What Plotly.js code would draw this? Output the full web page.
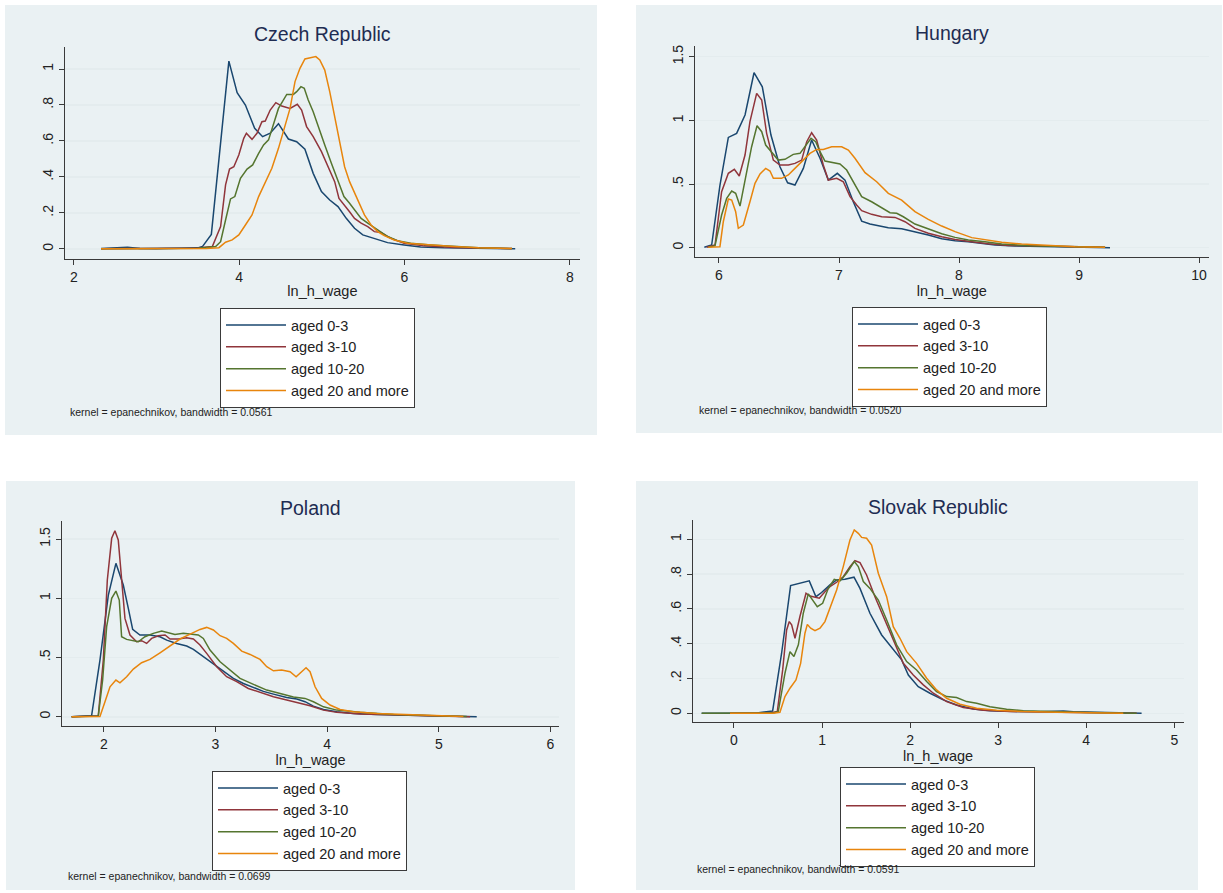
<!DOCTYPE html>
<html><head><meta charset="utf-8">
<script src="https://cdn.plot.ly/plotly-3.0.1.min.js"></script>
<style>html,body{margin:0;padding:0;background:#fff}#chart{width:1223px;height:893px}</style>
</head><body><div id="chart"></div>
<script>
// ---------------- DATA ----------------
const seriesNames = ["aged 0-3", "aged 3-10", "aged 10-20", "aged 20 and more"];
const panelTitles = ["Czech Republic", "Hungary", "Poland", "Slovak Republic"];
const footnotes = ["kernel = epanechnikov, bandwidth = 0.0561", "kernel = epanechnikov, bandwidth = 0.0520",
                   "kernel = epanechnikov, bandwidth = 0.0699", "kernel = epanechnikov, bandwidth = 0.0591"];
const xTitle = "ln_h_wage";

// Czech Republic
const cz_x_a03 = [2.33,2.5,2.65,2.8,3.0,3.3,3.5,3.556,3.664,3.876,3.976,4.076,4.188,4.284,4.376,4.476,4.596,4.696,4.796,4.896,4.996,5.096,5.196,5.296,5.396,5.496,5.596,5.696,5.796,5.996,6.196,6.476,6.9,7.34];
const cz_y_a03 = [0.002,0.004,0.009,0.003,0.001,0.004,0.006,0.013,0.081,1.044,0.869,0.80,0.670,0.624,0.643,0.696,0.611,0.596,0.554,0.420,0.319,0.272,0.235,0.170,0.115,0.078,0.065,0.050,0.035,0.022,0.011,0.006,0.003,0.001];
const cz_x_a310 = [2.33,2.8,3.2,3.5,3.676,3.776,3.836,3.884,3.936,3.996,4.056,4.088,4.156,4.216,4.276,4.316,4.376,4.444,4.516,4.616,4.704,4.756,4.816,4.896,4.996,5.096,5.156,5.208,5.276,5.336,5.396,5.476,5.556,5.636,5.716,5.836,5.996,6.236,6.6,7.0,7.3];
const cz_y_a310 = [0.001,0.002,0.003,0.005,0.013,0.124,0.356,0.444,0.457,0.522,0.615,0.643,0.609,0.643,0.707,0.711,0.772,0.813,0.794,0.781,0.804,0.772,0.680,0.624,0.541,0.430,0.374,0.281,0.244,0.207,0.170,0.143,0.124,0.096,0.091,0.059,0.031,0.017,0.008,0.004,0.002];
const cz_x_a1020 = [2.33,2.8,3.2,3.5,3.716,3.776,3.836,3.896,3.948,4.016,4.096,4.164,4.236,4.296,4.356,4.416,4.476,4.576,4.656,4.696,4.748,4.788,4.836,4.896,4.956,5.036,5.116,5.196,5.268,5.336,5.396,5.476,5.556,5.676,5.796,5.916,6.076,6.316,6.596,6.9,7.3];
const cz_y_a1020 = [0.001,0.002,0.002,0.004,0.013,0.04,0.161,0.278,0.291,0.393,0.444,0.467,0.531,0.578,0.606,0.689,0.781,0.859,0.859,0.874,0.902,0.893,0.828,0.763,0.680,0.578,0.476,0.374,0.291,0.254,0.217,0.170,0.143,0.106,0.069,0.046,0.031,0.022,0.013,0.006,0.002];
const cz_x_a20 = [2.33,2.8,3.2,3.6,3.756,3.836,3.916,3.996,4.076,4.156,4.236,4.316,4.396,4.476,4.556,4.616,4.676,4.736,4.796,4.876,4.928,4.976,5.036,5.096,5.156,5.216,5.276,5.336,5.396,5.456,5.516,5.596,5.676,5.756,5.876,6.036,6.276,6.596,6.9,7.3];
const cz_y_a20 = [0.001,0.001,0.002,0.003,0.007,0.037,0.05,0.078,0.133,0.189,0.291,0.374,0.448,0.559,0.689,0.781,0.930,1.004,1.056,1.063,1.069,1.050,0.994,0.874,0.735,0.615,0.457,0.374,0.309,0.254,0.189,0.133,0.096,0.074,0.050,0.031,0.022,0.013,0.006,0.002];

// Hungary
const hu_x_a03 = [5.878,5.939,6.008,6.078,6.147,6.217,6.292,6.361,6.433,6.508,6.572,6.633,6.703,6.772,6.842,6.911,6.986,7.05,7.119,7.189,7.258,7.328,7.411,7.522,7.633,7.744,7.856,7.967,8.078,8.189,8.3,8.467,8.689,8.911,9.258];
const hu_y_a03 = [0.003,0.021,0.49,0.866,0.898,1.042,1.374,1.264,0.885,0.636,0.510,0.492,0.623,0.846,0.702,0.531,0.584,0.531,0.361,0.209,0.186,0.170,0.157,0.149,0.126,0.099,0.071,0.055,0.047,0.034,0.021,0.013,0.008,0.005,0.0];
const hu_x_a310 = [5.897,5.967,6.022,6.078,6.128,6.169,6.217,6.258,6.314,6.356,6.397,6.453,6.508,6.578,6.633,6.689,6.731,6.772,6.814,6.869,6.911,6.981,7.036,7.092,7.147,7.189,7.272,7.356,7.467,7.55,7.633,7.744,7.856,7.967,8.106,8.244,8.411,8.633,8.856,9.217];
const hu_y_a310 = [0.003,0.021,0.44,0.584,0.615,0.563,0.728,0.990,1.212,1.160,0.898,0.688,0.649,0.649,0.662,0.688,0.832,0.903,0.846,0.649,0.531,0.545,0.518,0.401,0.335,0.291,0.262,0.243,0.238,0.204,0.152,0.113,0.086,0.065,0.047,0.031,0.018,0.013,0.008,0.003];
const hu_x_a1020 = [5.911,5.967,6.022,6.064,6.106,6.139,6.175,6.217,6.272,6.317,6.356,6.389,6.425,6.494,6.55,6.619,6.675,6.717,6.767,6.806,6.842,6.883,6.939,7.008,7.064,7.119,7.189,7.272,7.356,7.425,7.481,7.536,7.633,7.744,7.856,7.967,8.078,8.217,8.356,8.578,8.856,9.217];
const hu_y_a1020 = [0.003,0.016,0.257,0.387,0.445,0.427,0.327,0.518,0.793,0.958,0.911,0.806,0.767,0.688,0.694,0.733,0.741,0.793,0.859,0.832,0.754,0.681,0.670,0.657,0.610,0.518,0.401,0.361,0.314,0.275,0.270,0.243,0.186,0.147,0.110,0.081,0.060,0.047,0.029,0.016,0.008,0.003];
const hu_x_a20 = [5.911,6.008,6.036,6.078,6.106,6.139,6.161,6.203,6.258,6.3,6.342,6.389,6.425,6.453,6.522,6.578,6.633,6.689,6.758,6.814,6.869,6.939,7.022,7.078,7.133,7.217,7.314,7.411,7.522,7.633,7.744,7.856,7.967,8.106,8.217,8.356,8.522,8.744,8.967,9.217];
const hu_y_a20 = [0.003,0.008,0.204,0.382,0.374,0.283,0.152,0.178,0.361,0.505,0.579,0.623,0.602,0.545,0.545,0.571,0.623,0.675,0.741,0.772,0.772,0.793,0.793,0.767,0.702,0.589,0.518,0.427,0.374,0.283,0.223,0.170,0.126,0.079,0.065,0.042,0.029,0.016,0.008,0.003];

// Poland
const pl_x_a03 = [1.711,1.89,1.965,2.04,2.108,2.174,2.219,2.258,2.323,2.413,2.503,2.563,2.652,2.742,2.802,2.891,2.981,3.071,3.160,3.250,3.340,3.429,3.519,3.638,3.728,3.802,3.877,3.967,4.086,4.236,4.445,4.743,5.042,5.34];
const pl_y_a03 = [0.0,0.008,0.478,1.027,1.295,1.112,0.915,0.737,0.690,0.690,0.675,0.647,0.619,0.597,0.569,0.507,0.445,0.380,0.324,0.281,0.245,0.214,0.191,0.163,0.149,0.127,0.090,0.062,0.042,0.028,0.020,0.014,0.008,0.0];
const pl_x_a310 = [1.711,1.95,1.995,2.031,2.07,2.099,2.129,2.159,2.189,2.234,2.293,2.338,2.383,2.428,2.488,2.548,2.593,2.667,2.742,2.802,2.861,2.921,3.011,3.1,3.19,3.294,3.399,3.519,3.638,3.758,3.847,3.967,4.086,4.295,4.594,4.893,5.281];
const pl_y_a310 = [0.0,0.008,0.478,1.154,1.506,1.570,1.492,1.182,0.830,0.690,0.633,0.642,0.619,0.661,0.684,0.690,0.656,0.656,0.667,0.656,0.605,0.535,0.422,0.338,0.296,0.239,0.205,0.169,0.141,0.115,0.093,0.056,0.037,0.023,0.014,0.008,0.0];
const pl_x_a1020 = [1.711,1.95,1.989,2.025,2.07,2.108,2.138,2.159,2.204,2.249,2.308,2.368,2.443,2.518,2.577,2.637,2.712,2.787,2.846,2.891,2.951,3.041,3.131,3.220,3.340,3.459,3.579,3.698,3.802,3.877,3.967,4.086,4.295,4.594,4.893,5.251];
const pl_y_a1020 = [0.0,0.006,0.31,0.760,1.0,1.061,0.985,0.675,0.653,0.642,0.633,0.675,0.704,0.723,0.709,0.695,0.704,0.695,0.690,0.661,0.563,0.464,0.394,0.324,0.273,0.225,0.197,0.166,0.155,0.127,0.084,0.056,0.037,0.020,0.011,0.003];
const pl_x_a20 = [1.711,1.965,2.01,2.055,2.108,2.144,2.204,2.264,2.338,2.413,2.503,2.593,2.682,2.787,2.861,2.921,2.981,3.041,3.1,3.160,3.235,3.310,3.399,3.459,3.519,3.593,3.668,3.722,3.772,3.811,3.847,3.892,3.951,4.026,4.116,4.235,4.445,4.743,5.042,5.221];
const pl_y_a20 = [0.0,0.003,0.127,0.253,0.310,0.287,0.338,0.402,0.456,0.484,0.540,0.599,0.656,0.704,0.737,0.754,0.732,0.684,0.661,0.619,0.554,0.526,0.484,0.422,0.388,0.394,0.380,0.338,0.380,0.414,0.380,0.253,0.155,0.099,0.062,0.042,0.028,0.017,0.008,0.003];

// Slovak Republic
const sk_x_a03 = [-0.367,0.257,0.439,0.541,0.643,0.749,0.855,0.931,0.995,1.09,1.166,1.26,1.363,1.431,1.544,1.677,1.809,1.904,1.98,2.093,2.226,2.377,2.528,2.718,2.907,3.096,3.474,3.664,3.740,3.853,4.232,4.629];
const sk_y_a03 = [0.0,0.002,0.013,0.345,0.734,0.747,0.761,0.670,0.694,0.738,0.766,0.770,0.782,0.718,0.575,0.450,0.364,0.307,0.220,0.153,0.115,0.077,0.048,0.025,0.015,0.011,0.008,0.011,0.013,0.008,0.004,0.0];
const sk_x_a310 = [-0.045,0.409,0.492,0.553,0.598,0.628,0.655,0.693,0.749,0.818,0.863,0.920,0.969,1.033,1.09,1.166,1.241,1.317,1.374,1.431,1.506,1.601,1.696,1.809,1.923,2.036,2.150,2.264,2.415,2.604,2.831,3.134,3.512,3.891,4.307,4.572];
const sk_y_a310 = [0.0,0.002,0.01,0.249,0.479,0.527,0.508,0.431,0.556,0.690,0.674,0.665,0.661,0.699,0.728,0.753,0.785,0.843,0.877,0.866,0.795,0.670,0.556,0.421,0.287,0.220,0.163,0.115,0.067,0.033,0.017,0.010,0.006,0.004,0.002,0.0];
const sk_x_a1020 = [-0.367,0.447,0.503,0.579,0.636,0.681,0.731,0.787,0.844,0.893,0.946,1.007,1.071,1.139,1.204,1.279,1.366,1.412,1.469,1.544,1.639,1.734,1.847,1.961,2.074,2.188,2.301,2.415,2.528,2.642,2.756,2.907,3.096,3.285,3.664,4.042,4.572];
const sk_y_a1020 = [0.0,0.002,0.01,0.230,0.354,0.326,0.393,0.575,0.686,0.651,0.613,0.632,0.718,0.770,0.761,0.805,0.872,0.843,0.757,0.718,0.651,0.536,0.393,0.297,0.249,0.182,0.125,0.096,0.090,0.067,0.057,0.038,0.023,0.015,0.008,0.004,0.0];
const sk_x_a20 = [-0.045,0.447,0.522,0.579,0.636,0.704,0.757,0.806,0.833,0.871,0.920,0.977,1.033,1.09,1.166,1.241,1.317,1.366,1.412,1.45,1.506,1.563,1.639,1.734,1.809,1.885,1.961,2.074,2.188,2.301,2.415,2.566,2.756,2.983,3.285,3.664,4.042,4.421];
const sk_y_a20 = [0.0,0.0,0.006,0.096,0.144,0.192,0.287,0.460,0.511,0.489,0.475,0.489,0.527,0.603,0.709,0.843,0.996,1.054,1.034,1.011,1.006,0.967,0.805,0.670,0.498,0.431,0.354,0.287,0.201,0.134,0.086,0.052,0.029,0.017,0.010,0.006,0.002,0.0];

// tick labels
const cz_xticks = [2,4,6,8];
const cz_yticks = [0,0.2,0.4,0.6,0.8,1];
const cz_yticktext = ["0",".2",".4",".6",".8","1"];
const hu_xticks = [6,7,8,9,10];
const hu_yticks = [0,0.5,1,1.5];
const hu_yticktext = ["0",".5","1","1.5"];
const pl_xticks = [2,3,4,5,6];
const pl_yticks = [0,0.5,1,1.5];
const pl_yticktext = ["0",".5","1","1.5"];
const sk_xticks = [0,1,2,3,4,5];
const sk_yticks = [0,0.2,0.4,0.6,0.8,1];
const sk_yticktext = ["0",".2",".4",".6",".8","1"];

// ---------------- LAYOUT / STYLE ----------------
const W = 1223, H = 893;
const px = v => v / W;
const py = v => 1 - v / H;
const colors = ["#1a476f", "#90353b", "#55752f", "#e8850c"];
const bg = "#eaf1f3";
const FONT = "Liberation Sans, Arial, Helvetica, sans-serif";

const panels = [
  {xs:[cz_x_a03,cz_x_a310,cz_x_a1020,cz_x_a20], ys:[cz_y_a03,cz_y_a310,cz_y_a1020,cz_y_a20],
   xt:cz_xticks, yt:cz_yticks, ytt:cz_yticktext,
   bgBox:[5,5,597,435], plot:[64.7,46.7,580.2,259], xr:[1.89,8.126], yr:[-0.056,1.124], leg:[220,308], foot:[68,412]},
  {xs:[hu_x_a03,hu_x_a310,hu_x_a1020,hu_x_a20], ys:[hu_y_a03,hu_y_a310,hu_y_a1020,hu_y_a20],
   xt:hu_xticks, yt:hu_yticks, ytt:hu_yticktext,
   bgBox:[636,5,1222,433], plot:[694.5,46,1209,257], xr:[5.796,10.083], yr:[-0.073,1.584], leg:[852,307], foot:[697,410]},
  {xs:[pl_x_a03,pl_x_a310,pl_x_a1020,pl_x_a20], ys:[pl_y_a03,pl_y_a310,pl_y_a1020,pl_y_a20],
   xt:pl_xticks, yt:pl_yticks, ytt:pl_yticktext,
   bgBox:[6,481,575,890], plot:[62,521,559,726], xr:[1.625,6.077], yr:[-0.078,1.652], leg:[212,771], foot:[66,876]},
  {xs:[sk_x_a03,sk_x_a310,sk_x_a1020,sk_x_a20], ys:[sk_y_a03,sk_y_a310,sk_y_a1020,sk_y_a20],
   xt:sk_xticks, yt:sk_yticks, ytt:sk_yticktext,
   bgBox:[636,481,1198,890], plot:[692.5,520,1183.6,722.3], xr:[-0.471,5.106], yr:[-0.052,1.111], leg:[840,767], foot:[695,869]}
];

const traces = [];
const layout = {
  width: W, height: H, margin:{l:0,r:0,t:0,b:0},
  paper_bgcolor:"#ffffff", plot_bgcolor:"#ffffff",
  font:{family:FONT, color:"#222"},
  shapes:[], annotations:[], showlegend:true
};

panels.forEach((p, i) => {
  const n = i === 0 ? "" : String(i + 1);
  const legName = i === 0 ? "legend" : "legend" + (i + 1);
  for (let s = 0; s < 4; s++) {
    traces.push({
      type:"scatter", mode:"lines", x:p.xs[s], y:p.ys[s], name:seriesNames[s],
      line:{color:colors[s], width:1.5}, xaxis:"x"+n, yaxis:"y"+n, legend:legName,
      hoverinfo:"x+y"
    });
  }
  const [pl, pt, pr, pb] = p.plot;
  layout["xaxis"+n] = {
    domain:[px(pl), px(pr)], range:p.xr, anchor:"y"+n,
    showline:true, linecolor:"#3a3a3a", linewidth:1, mirror:false,
    ticks:"outside", ticklen:5, tickcolor:"#3a3a3a", tickwidth:1,
    tickvals:p.xt, ticktext:p.xt.map(String), tickfont:{size:14, color:"#222"},
    showgrid:false, zeroline:false,
    title:{text:xTitle, font:{size:14.5, color:"#222"}, standoff:2}
  };
  layout["yaxis"+n] = {
    domain:[py(pb), py(pt)], range:p.yr, anchor:"x"+n,
    showline:true, linecolor:"#3a3a3a", linewidth:1,
    ticks:"outside", ticklen:5, tickcolor:"#3a3a3a", tickwidth:1,
    tickvals:p.yt, ticktext:p.ytt, tickangle:-90, tickfont:{size:14, color:"#222"},
    showgrid:true, gridcolor:"#e4ecee", gridwidth:1.5, zeroline:false
  };
  layout[legName] = {
    x:px(p.leg[0]), y:py(p.leg[1]), xanchor:"left", yanchor:"top",
    bgcolor:"#ffffff", bordercolor:"#3a3a3a", borderwidth:1,
    font:{size:14.5, color:"#222"}, itemwidth:60, tracegroupgap:0, traceorder:"normal",
    itemclick:false, itemdoubleclick:false
  };
  const [bx0, by0, bx1, by1] = p.bgBox;
  layout.shapes.push({type:"rect", xref:"paper", yref:"paper", layer:"below",
    x0:px(bx0), x1:px(bx1), y0:py(by1), y1:py(by0), fillcolor:bg, line:{width:0}});
  layout.annotations.push({xref:"paper", yref:"paper", x:px((pl+pr)/2), y:py(pt-13),
    xanchor:"center", yanchor:"middle", showarrow:false, text:panelTitles[i],
    font:{size:19.5, color:"#1e2c52"}});
  layout.annotations.push({xref:"paper", yref:"paper", x:px(p.foot[0]), y:py(p.foot[1]),
    xanchor:"left", yanchor:"middle", showarrow:false, text:footnotes[i],
    font:{size:10.5, color:"#222"}});
});

Plotly.newPlot("chart", traces, layout, {displayModeBar:false, staticPlot:true});
</script>
</body></html>
